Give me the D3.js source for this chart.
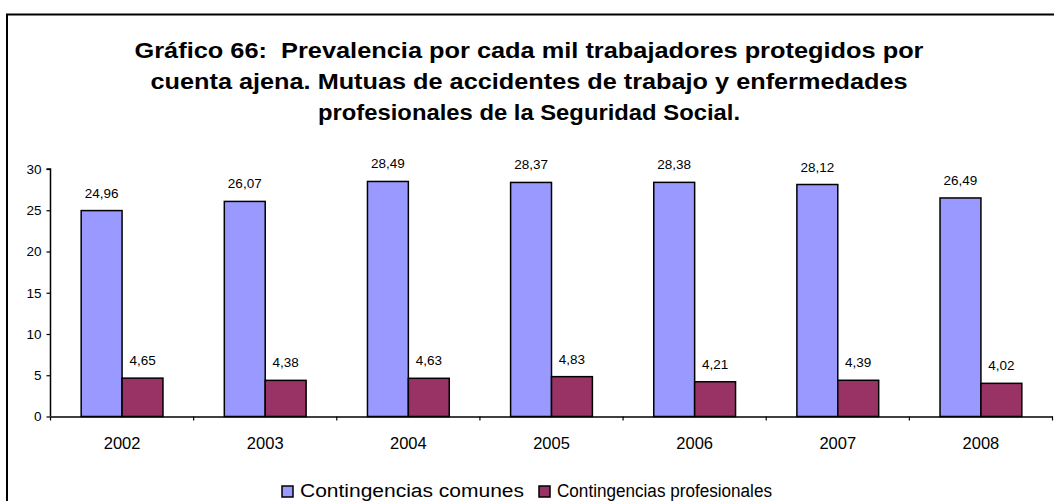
<!DOCTYPE html>
<html>
<head>
<meta charset="utf-8">
<script src="https://cdn.jsdelivr.net/npm/d3@7"></script>
<style>
  html, body { margin: 0; padding: 0; background: #fff; }
  svg { display: block; font-family: "Liberation Sans", Arial, sans-serif; }
</style>
</head>
<body>
<svg id="chart" width="1054" height="501"></svg>
<script>
// Years on the category axis
const years = ["2002", "2003", "2004", "2005", "2006", "2007", "2008"];
// Prevalence per thousand protected workers
const comunes = [24.96, 26.07, 28.49, 28.37, 28.38, 28.12, 26.49];
const profesionales = [4.65, 4.38, 4.63, 4.83, 4.21, 4.39, 4.02];
const seriesNames = ["Contingencias comunes", "Contingencias profesionales"];
const seriesColors = ["#9999FF", "#993366"];
const yTicks = [0, 5, 10, 15, 20, 25, 30];
const titleLines = [
  "Gráfico 66:  Prevalencia por cada mil trabajadores protegidos por",
  "cuenta ajena. Mutuas de accidentes de trabajo y enfermedades",
  "profesionales de la Seguridad Social."
];

const svg = d3.select("#chart");
const W = 1054, H = 501;

// Outer frame (runs off the right and bottom edges)
svg.append("rect")
  .attr("x", 7).attr("y", 14.5)
  .attr("width", W + 20).attr("height", H + 20)
  .attr("fill", "#fff").attr("stroke", "#000").attr("stroke-width", 2);

// Title, rendered in a wide bold face
const titleWidths = [789, 757, 422];
svg.append("g").selectAll("text").data(titleLines).join("text")
  .attr("x", 529).attr("y", (d, i) => 58 + i * 31)
  .attr("text-anchor", "middle")
  .attr("font-size", 22).attr("font-weight", "bold")
  .attr("textLength", (d, i) => titleWidths[i])
  .attr("lengthAdjust", "spacingAndGlyphs")
  .style("white-space", "pre")
  .text(d => d);

const plot = { left: 50.5, right: 1052.5, top: 169, bottom: 416.5 };

const x = d3.scaleBand().domain(years)
  .range([plot.left, plot.right]).paddingInner(0).paddingOuter(0);
const y = d3.scaleLinear().domain([0, 30]).range([plot.bottom, plot.top]);

// Bars: two per year, gap width 150%
const groupW = x.bandwidth();
const barW = groupW / 3.5;
const data = years.map((yr, i) => ({ yr, vals: [comunes[i], profesionales[i]] }));

const groups = svg.append("g").selectAll("g").data(data).join("g")
  .attr("transform", d => `translate(${x(d.yr) + groupW / 2 - barW},0)`);

groups.selectAll("rect").data(d => d.vals).join("rect")
  .attr("x", (d, j) => j * barW)
  .attr("y", d => y(d))
  .attr("width", barW)
  .attr("height", d => y(0) - y(d))
  .attr("fill", (d, j) => seriesColors[j])
  .attr("stroke", "#000").attr("stroke-width", 1.5);

const fmt = v => d3.format(".2f")(v).replace(".", ",");
groups.selectAll("text").data(d => d.vals).join("text")
  .attr("x", (d, j) => j * barW + barW / 2)
  .attr("y", d => y(d) - 13)
  .attr("text-anchor", "middle")
  .attr("font-size", 13.5)
  .text(d => fmt(d));

// Y axis
const yAxis = d3.axisLeft(y).tickValues(yTicks).tickSize(4).tickFormat(d3.format("d"));
const gy = svg.append("g").attr("transform", `translate(${plot.left},0)`).call(yAxis);
gy.select(".domain").attr("stroke", "#000").attr("stroke-width", 1.5).attr("d", `M-4,${plot.top}H0V${plot.bottom}`);
gy.selectAll(".tick line").attr("stroke", "#000").attr("stroke-width", 1.2);
gy.selectAll(".tick text").attr("font-size", 13.5).attr("fill", "#000")
  .attr("font-family", "Liberation Sans, Arial, sans-serif").attr("x", -9);

// X axis
const xAxis = d3.axisBottom(x).tickSize(0).tickSizeOuter(0);
const gx = svg.append("g").attr("transform", `translate(0,${plot.bottom})`).call(xAxis);
gx.select(".domain").attr("stroke", "#000").attr("stroke-width", 1.5);
gx.selectAll(".tick text").attr("font-size", 16.5).attr("fill", "#000")
  .attr("font-family", "Liberation Sans, Arial, sans-serif").attr("dy", 0).attr("y", 32);
// Category boundary ticks
svg.append("g").selectAll("line").data(years.concat(["end"])).join("line")
  .attr("x1", (d, i) => i < years.length ? x(d) : plot.right)
  .attr("x2", (d, i) => i < years.length ? x(d) : plot.right)
  .attr("y1", plot.bottom).attr("y2", plot.bottom + 4)
  .attr("stroke", "#000").attr("stroke-width", 1.2);

// Legend
const legendX = [282, 539];
const legendWidths = [224, 215];
const lg = svg.append("g").selectAll("g").data(seriesNames).join("g")
  .attr("transform", (d, i) => `translate(${legendX[i]},486)`);
lg.append("rect").attr("width", 11).attr("height", 11)
  .attr("fill", (d, i) => seriesColors[i]).attr("stroke", "#000").attr("stroke-width", 1.5);
lg.append("text").attr("x", 18).attr("y", 11)
  .attr("font-size", 18)
  .attr("textLength", (d, i) => legendWidths[i])
  .attr("lengthAdjust", "spacingAndGlyphs")
  .text(d => d);
</script>
</body>
</html>
